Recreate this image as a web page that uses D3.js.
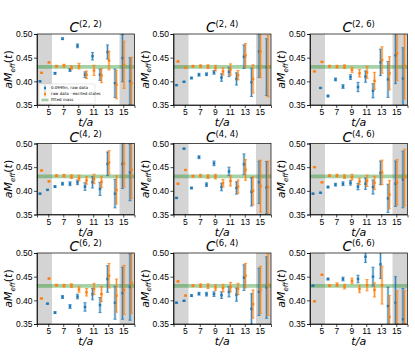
<!DOCTYPE html>
<meta charset="utf-8">
<style>
  body { margin: 0; background: #fff; }
  svg { font-family: "DejaVu Sans", sans-serif; }
  .axis path, .axis line { stroke: #000; stroke-width: 0.7; }
  .axis text { font-size: 8.5px; fill: #000; }
</style>
<svg width="415" height="360"></svg>
<script src="https://d3js.org/d3.v7.min.js"></script>
<script>

  // time slices
  var tValues = [4, 5, 6, 7, 8, 9, 10, 11, 12, 13, 14, 15, 16];

  var panelTitles = ["(2, 2)", "(2, 4)", "(2, 6)", "(4, 2)", "(4, 4)", "(4, 6)", "(6, 2)", "(6, 4)", "(6, 6)"];

  // 0.099fm, raw data (null = outside plotted range)
  var blueMeans = [
    [0.400, null, 0.417, 0.490, 0.424, 0.475, 0.414, 0.453, 0.414, 0.462, 0.396, 0.449, 0.400],
    [0.392, 0.399, 0.407, 0.414, 0.415, 0.419, 0.408, 0.420, 0.405, 0.452, 0.398, 0.463, 0.430],
    [null, 0.386, 0.369, 0.404, 0.389, 0.409, 0.388, 0.410, 0.380, 0.440, 0.404, 0.455, 0.406],
    [0.394, 0.402, 0.409, 0.415, 0.415, 0.418, 0.409, 0.418, 0.404, 0.457, 0.394, 0.457, 0.439],
    [0.385, 0.489, 0.406, 0.471, 0.413, 0.458, 0.408, 0.441, 0.406, 0.456, 0.398, 0.418, 0.407],
    [0.394, 0.396, 0.408, 0.413, 0.415, 0.417, 0.409, 0.415, 0.408, 0.438, 0.384, 0.415, 0.424],
    [null, 0.393, 0.374, 0.407, 0.387, 0.408, 0.386, 0.413, 0.390, 0.445, 0.395, 0.415, 0.428],
    [0.395, 0.399, 0.410, 0.414, 0.413, 0.413, 0.411, 0.418, 0.412, 0.448, 0.382, 0.418, 0.427],
    [0.431, null, 0.445, null, 0.445, null, 0.445, 0.492, 0.450, 0.476, 0.388, 0.395, 0.360]
  ];
  var blueErrs = [
    [0.001, 0, 0.002, 0.002, 0.003, 0.004, 0.006, 0.008, 0.012, 0.015, 0.030, 0.050, 0.050],
    [0.001, 0.001, 0.002, 0.003, 0.003, 0.004, 0.008, 0.010, 0.013, 0.025, 0.030, 0.055, 0.060],
    [0, 0.001, 0.002, 0.003, 0.004, 0.005, 0.010, 0.012, 0.015, 0.028, 0.038, 0.060, 0.065],
    [0.001, 0.001, 0.002, 0.003, 0.004, 0.005, 0.008, 0.012, 0.014, 0.025, 0.030, 0.052, 0.060],
    [0.001, 0.001, 0.002, 0.003, 0.004, 0.005, 0.008, 0.009, 0.013, 0.022, 0.030, 0.045, 0.055],
    [0.001, 0.001, 0.002, 0.003, 0.004, 0.005, 0.007, 0.012, 0.015, 0.025, 0.030, 0.048, 0.060],
    [0, 0.001, 0.002, 0.003, 0.004, 0.005, 0.009, 0.012, 0.016, 0.028, 0.035, 0.055, 0.070],
    [0.001, 0.001, 0.002, 0.003, 0.004, 0.005, 0.007, 0.011, 0.014, 0.027, 0.032, 0.050, 0.065],
    [0.001, 0, 0.002, 0, 0.004, 0, 0.008, 0.012, 0.020, 0.030, 0.040, 0.055, 0.065]
  ];

  // raw data - excited states
  var orangeMeans = [
    [0.418, 0.440, 0.432, 0.433, 0.429, 0.432, 0.414, 0.423, 0.412, 0.444, 0.393, 0.435, 0.396],
    [0.442, 0.429, 0.432, 0.432, 0.431, 0.428, 0.421, 0.425, 0.413, 0.455, 0.405, 0.463, 0.432],
    [0.421, 0.441, 0.432, 0.431, 0.431, 0.424, 0.417, 0.419, 0.401, 0.445, 0.417, 0.459, 0.433],
    [0.443, 0.420, 0.432, 0.432, 0.430, 0.427, 0.422, 0.425, 0.419, 0.460, 0.402, 0.458, 0.444],
    [0.415, 0.444, 0.431, 0.432, 0.430, 0.430, 0.416, 0.421, 0.409, 0.444, 0.400, 0.410, 0.408],
    [0.450, 0.418, 0.432, 0.432, 0.430, 0.429, 0.420, 0.421, 0.417, 0.439, 0.392, 0.418, 0.428],
    [0.404, 0.446, 0.432, 0.431, 0.431, 0.423, 0.417, 0.424, 0.413, 0.452, 0.410, 0.422, 0.437],
    [0.440, 0.410, 0.431, 0.431, 0.430, 0.427, 0.426, 0.428, 0.424, 0.452, 0.392, 0.422, 0.433],
    [0.398, 0.454, 0.431, 0.433, 0.429, 0.441, 0.424, 0.432, 0.422, 0.432, 0.365, 0.350, 0.350]
  ];
  var orangeErrs = [
    [0.001, 0.001, 0.002, 0.003, 0.004, 0.006, 0.008, 0.011, 0.015, 0.020, 0.030, 0.050, 0.055],
    [0.001, 0.001, 0.002, 0.003, 0.004, 0.006, 0.008, 0.012, 0.010, 0.025, 0.030, 0.055, 0.065],
    [0.001, 0.001, 0.002, 0.003, 0.004, 0.006, 0.008, 0.013, 0.018, 0.028, 0.035, 0.058, 0.070],
    [0.001, 0.001, 0.002, 0.003, 0.004, 0.006, 0.008, 0.010, 0.012, 0.025, 0.030, 0.050, 0.060],
    [0.001, 0.001, 0.002, 0.003, 0.004, 0.005, 0.008, 0.011, 0.014, 0.022, 0.030, 0.055, 0.055],
    [0.001, 0.001, 0.002, 0.003, 0.004, 0.006, 0.007, 0.012, 0.014, 0.026, 0.030, 0.048, 0.060],
    [0.001, 0.001, 0.002, 0.003, 0.004, 0.006, 0.008, 0.012, 0.016, 0.026, 0.035, 0.052, 0.065],
    [0.001, 0.001, 0.002, 0.004, 0.005, 0.006, 0.008, 0.010, 0.012, 0.026, 0.030, 0.050, 0.065],
    [0.001, 0.001, 0.002, 0.004, 0.005, 0.006, 0.008, 0.012, 0.015, 0.040, 0.045, 0.070, 0.070]
  ];

  var fitMass = 0.4305, fitErr = 0.004;
  var excludedRanges = [[3.5, 5.5], [14.5, 16.5]];
  var xTicks = [5, 7, 9, 11, 13, 15];
  var yTicks = [0.35, 0.40, 0.45, 0.50];

  var blue = "#1f77b4", orange = "#ff7f0e";

  var svg = d3.select("svg");
  var colLeft = [37, 173.5, 310], rowTop = [34, 143.5, 253];
  var pw = 97.5, ph = 71;

  var x = d3.scaleLinear().domain([3.5, 16.5]).range([0, pw]);
  var y = d3.scaleLinear().domain([0.35, 0.50]).range([ph, 0]);

  function drawSeries(g, means, errs, color, shift) {
    var pts = tValues.map(function(t, i) { return {t: t + shift, v: means[i], e: errs[i]}; })
      .filter(function(d) { return d.v !== null; });

    var s = g.append("g");
    // light wide bar
    s.selectAll(".light").data(pts).enter().append("line")
      .attr("x1", function(d) { return x(d.t); }).attr("x2", function(d) { return x(d.t); })
      .attr("y1", function(d) { return y(d.v - d.e); }).attr("y2", function(d) { return y(d.v + d.e); })
      .attr("stroke", color).attr("stroke-opacity", 0.35).attr("stroke-width", 2.6);
    // thin bar
    s.selectAll(".thin").data(pts).enter().append("line")
      .attr("x1", function(d) { return x(d.t); }).attr("x2", function(d) { return x(d.t); })
      .attr("y1", function(d) { return y(d.v - d.e); }).attr("y2", function(d) { return y(d.v + d.e); })
      .attr("stroke", color).attr("stroke-width", 0.8);
    // caps
    [-1, 1].forEach(function(sg) {
      s.selectAll(".cap" + sg).data(pts).enter().append("line")
        .attr("x1", function(d) { return x(d.t) - 1.6; }).attr("x2", function(d) { return x(d.t) + 1.6; })
        .attr("y1", function(d) { return y(d.v + sg * d.e); }).attr("y2", function(d) { return y(d.v + sg * d.e); })
        .attr("stroke", color).attr("stroke-width", 0.7);
    });
    s.selectAll("rect").data(pts).enter().append("rect")
      .attr("x", function(d) { return x(d.t) - 1.2; })
      .attr("y", function(d) { return y(d.v) - 1.2; })
      .attr("width", 2.4).attr("height", 2.4)
      .attr("fill", color);
  }

  panelTitles.forEach(function(title, p) {
    var g = svg.append("g")
      .attr("transform", "translate(" + colLeft[p % 3] + "," + rowTop[Math.floor(p / 3)] + ")");

    g.append("clipPath").attr("id", "clip" + p)
      .append("rect").attr("width", pw).attr("height", ph);

    var inner = g.append("g").attr("clip-path", "url(#clip" + p + ")");

    inner.selectAll(".band").data(excludedRanges).enter().append("rect")
      .attr("x", function(d) { return x(d[0]); })
      .attr("width", function(d) { return x(d[1]) - x(d[0]); })
      .attr("y", 0).attr("height", ph)
      .attr("fill", "#d4d4d4");

    inner.append("rect")
      .attr("x", 0).attr("width", pw)
      .attr("y", y(fitMass + fitErr))
      .attr("height", y(fitMass - fitErr) - y(fitMass + fitErr))
      .attr("fill", "green").attr("fill-opacity", 0.35);

    drawSeries(inner, blueMeans[p], blueErrs[p], blue, -0.1);
    drawSeries(inner, orangeMeans[p], orangeErrs[p], orange, 0.1);

    g.append("g").attr("class", "axis")
      .attr("transform", "translate(0," + ph + ")")
      .call(d3.axisBottom(x).tickValues(xTicks).tickSize(3).tickPadding(1));
    g.append("g").attr("class", "axis")
      .call(d3.axisLeft(y).tickValues(yTicks).tickFormat(d3.format(".2f")).tickSize(3).tickPadding(1.5));
    g.append("rect").attr("width", pw).attr("height", ph)
      .attr("fill", "none").attr("stroke", "#000").attr("stroke-width", 0.7);

    // title
    var tt = g.append("text").attr("x", pw / 2).attr("y", -2).attr("text-anchor", "middle")
      .style("font-size", "13.5px");
    tt.append("tspan").style("font-style", "italic").text("C");
    tt.append("tspan").attr("dy", -5).style("font-size", "8.5px").text(title);

    // x label
    g.append("text").attr("x", pw / 2).attr("y", ph + 21).attr("text-anchor", "middle")
      .style("font-size", "11px").style("font-style", "italic").text("t/a");

    // y label
    var yl = g.append("text")
      .attr("transform", "translate(-25," + (ph / 2) + ") rotate(-90)")
      .attr("text-anchor", "middle").style("font-size", "11px");
    yl.append("tspan").style("font-style", "italic").text("aM");
    yl.append("tspan").attr("dy", 2.5).style("font-size", "7px").style("font-style", "italic").text("eff");
    yl.append("tspan").attr("dy", -2.5).text("(");
    yl.append("tspan").style("font-style", "italic").text("t");
    yl.append("tspan").text(")");

    if (p === 0) {
      var lg = g.append("g").attr("transform", "translate(2,50)");
      lg.append("rect").attr("width", 56).attr("height", 20)
        .attr("fill", "#fff").attr("fill-opacity", 0.85).attr("stroke", "#ccc").attr("stroke-width", 0.5).attr("rx", 1);
      var entries = [["0.099fm, raw data", blue], ["raw data - excited states", orange], ["fitted mass", null]];
      entries.forEach(function(e, i) {
        var yy = 4 + i * 6;
        if (e[1]) {
          lg.append("line").attr("x1", 6).attr("x2", 6).attr("y1", yy - 2.5).attr("y2", yy + 2.5)
            .attr("stroke", e[1]).attr("stroke-width", 0.8);
          lg.append("rect").attr("x", 5).attr("y", yy - 1).attr("width", 2).attr("height", 2).attr("fill", e[1]);
        } else {
          lg.append("rect").attr("x", 2.5).attr("y", yy - 1.3).attr("width", 7).attr("height", 2.6)
            .attr("fill", "green").attr("fill-opacity", 0.35);
        }
        lg.append("text").attr("x", 12).attr("y", yy + 1.3).style("font-size", "4px").text(e[0]);
      });
    }
  });

</script>
